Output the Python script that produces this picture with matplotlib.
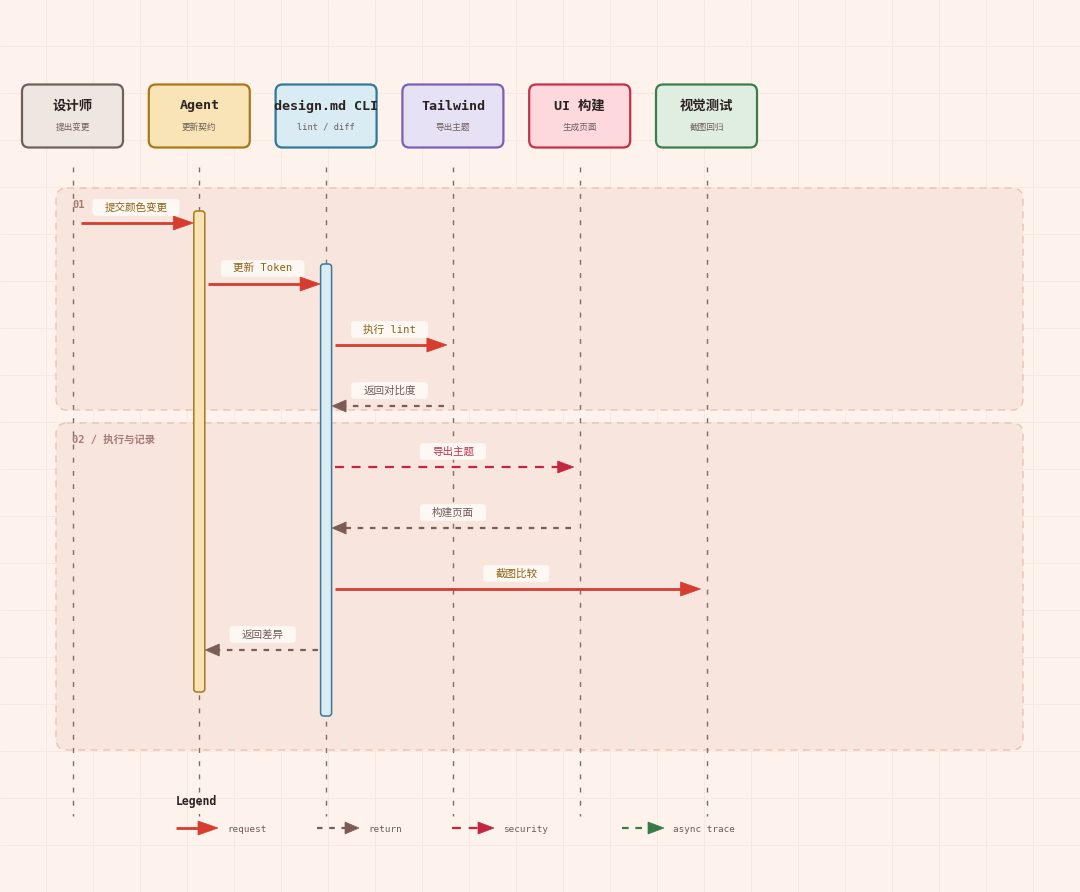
import matplotlib
matplotlib.use("Agg")
import matplotlib.pyplot as plt
from matplotlib.patches import FancyBboxPatch, Polygon

plt.rcParams['font.family'] = ['DejaVu Sans Mono', 'Noto Sans CJK SC']

# ---------------- data ----------------
participants = ["设计师", "Agent", "design.md CLI", "Tailwind", "UI 构建", "视觉测试"]
subtitles = ["提出变更", "更新契约", "lint / diff", "导出主题", "生成页面", "截图回归"]
box_fill = ["#ede6e1", "#f8e4b6", "#d9ebf3", "#e7e1f5", "#fdd9de", "#e0eee2"]
box_edge = ["#6f605b", "#a8781a", "#2f7896", "#7a60b2", "#c62f48", "#3b7d4b"]

msg_from = [0, 1, 2, 3, 2, 4, 2, 2]
msg_to = [1, 2, 3, 2, 4, 2, 5, 1]
msg_labels = ["提交颜色变更", "更新 Token", "执行 lint", "返回对比度",
              "导出主题", "构建页面", "截图比较", "返回差异"]
msg_kinds = ["request", "request", "request", "return",
             "security", "return", "request", "return"]

groups = ["01", "02 / 执行与记录"]
group_steps = [(0, 3), (4, 7)]

activations = [(1, 0, 7), (2, 1, 7)]  # participant, first step, last step

legend_kinds = ["request", "return", "security", "async trace"]

# ---------------- style ----------------
W, H = 1080, 892
BG = "#fdf3ec"
GRID = "#f8e8de"
kind_color = {"request": "#d63c2f", "return": "#7b5d55",
              "security": "#c2273f", "async trace": "#3a7a46"}
kind_ls = {"request": "-", "return": (0, (2.5, 3)),
           "security": (0, (4, 3.5)), "async trace": (0, (3, 3))}
kind_lw = {"request": 2.0, "return": 1.6, "security": 1.6, "async trace": 1.6}
kind_head = {"request": (20, 7), "return": (14, 6), "security": (16, 6),
             "async trace": (16, 6)}
label_color = {"request": "#8c6212", "return": "#6e5a55",
               "security": "#c0304a", "async trace": "#3a7a46"}

fig = plt.figure(figsize=(W / 100, H / 100), dpi=100)
ax = fig.add_axes([0, 0, 1, 1])
ax.set_xlim(0, W)
ax.set_ylim(H, 0)
ax.axis("off")
fig.patch.set_facecolor(BG)

# grid
g = 47
x = g - 0.7
while x < W:
    ax.plot([x, x], [0, H], color=GRID, lw=0.6, zorder=0)
    x += g
y = g - 1
while y < H:
    ax.plot([0, W], [y, y], color=GRID, lw=0.6, zorder=0)
    y += g

x0, dx = 72.5, 126.8
xs = [x0 + i * dx for i in range(len(participants))]
y_msg0, dy = 223, 61
ys = [y_msg0 + i * dy for i in range(len(msg_labels))]

# groups
g_off = [(-35, 4), (-44, 100)]
for name, (a, b), (ot, ob) in zip(groups, group_steps, g_off):
    top = ys[a] + ot
    bot = ys[b] + ob
    p = FancyBboxPatch((56, top), 967, bot - top,
                       boxstyle="round,pad=0,rounding_size=11",
                       facecolor="#f8e6de", edgecolor="#e9c2b5",
                       lw=1.0, ls=(0, (5, 4)), zorder=1)
    ax.add_patch(p)
    ax.text(72, top + 17, name, fontsize=7.5, color="#a27c74",
            fontweight="bold", va="center", ha="left", zorder=5)

# participants
for i, (nm, sub) in enumerate(zip(participants, subtitles)):
    p = FancyBboxPatch((xs[i] - 50.5, 84.5), 101, 63,
                       boxstyle="round,pad=0,rounding_size=7",
                       facecolor=box_fill[i], edgecolor=box_edge[i],
                       lw=1.6, zorder=3)
    ax.add_patch(p)
    ax.text(xs[i], 106, nm, fontsize=9.6, fontweight="bold",
            color="#2b2120", ha="center", va="center", zorder=4)
    ax.text(xs[i], 127.5, sub, fontsize=6.2, color="#6e5d58",
            ha="center", va="center", zorder=4)
    # lifeline
    ax.plot([xs[i], xs[i]], [167, 816], color="#806a66", lw=1.0,
            ls=(0, (3.5, 6)), zorder=2)

# activation bars
act_fill = {1: "#f8e3b4", 2: "#d9ebf3"}
act_edge = {1: "#a8781a", 2: "#3a7a99"}
act_off = {1: (-12, 42), 2: (-20, 66)}
for pi, s0, s1 in activations:
    top = ys[s0] + act_off[pi][0]
    bot = ys[s1] + act_off[pi][1]
    p = FancyBboxPatch((xs[pi] - 5.5, top), 11, bot - top,
                       boxstyle="round,pad=0,rounding_size=3",
                       facecolor=act_fill[pi], edgecolor=act_edge[pi],
                       lw=1.1, zorder=6)
    ax.add_patch(p)


def arrow(xa, xb, yy, kind, z=7):
    c = kind_color[kind]
    hl, hw = kind_head[kind]
    d = 1 if xb > xa else -1
    xe = xb - d * hl
    ax.plot([xa, xe + d * 2], [yy, yy], color=c, lw=kind_lw[kind],
            ls=kind_ls[kind], solid_capstyle="butt", zorder=z)
    ax.add_patch(Polygon([[xb, yy], [xe, yy - hw], [xe, yy + hw]],
                         closed=True, facecolor=c, edgecolor=c, lw=0.5,
                         zorder=z))


# messages
label_texts = []
for f, t, lab, kind, yy in zip(msg_from, msg_to, msg_labels, msg_kinds, ys):
    d = 1 if t > f else -1
    xa = xs[f] + d * 8.5
    xb = xs[t] - d * 6
    arrow(xa, xb, yy, kind)
    xm = (xs[f] + xs[t]) / 2
    tx = ax.text(xm, yy - 15.5, lab, fontsize=7.6, color=label_color[kind],
                 ha="center", va="center", zorder=9)
    label_texts.append((tx, xm, yy - 15.5))

fig.canvas.draw()
r = fig.canvas.get_renderer()
for tx, xm, yc in label_texts:
    bb = tx.get_window_extent(renderer=r)
    w = bb.width + 24
    h = 16.5
    ax.add_patch(FancyBboxPatch((xm - w / 2, yc - h / 2), w, h,
                                boxstyle="round,pad=0,rounding_size=3",
                                facecolor="#fffaf6", edgecolor="none",
                                alpha=0.95, zorder=8))

# legend
ax.text(176, 801, "Legend", fontsize=8.3, fontweight="bold",
        color="#2b2120", ha="left", va="center", zorder=9)
leg_x = [176, 317, 452, 622]
for lx, kind in zip(leg_x, legend_kinds):
    arrow(lx, lx + 42, 828, kind, z=9)
    ax.text(lx + 51, 829, kind, fontsize=6.7, color="#6e5a55",
            ha="left", va="center", zorder=9)

fig.savefig("out.png", dpi=100, facecolor=BG)
